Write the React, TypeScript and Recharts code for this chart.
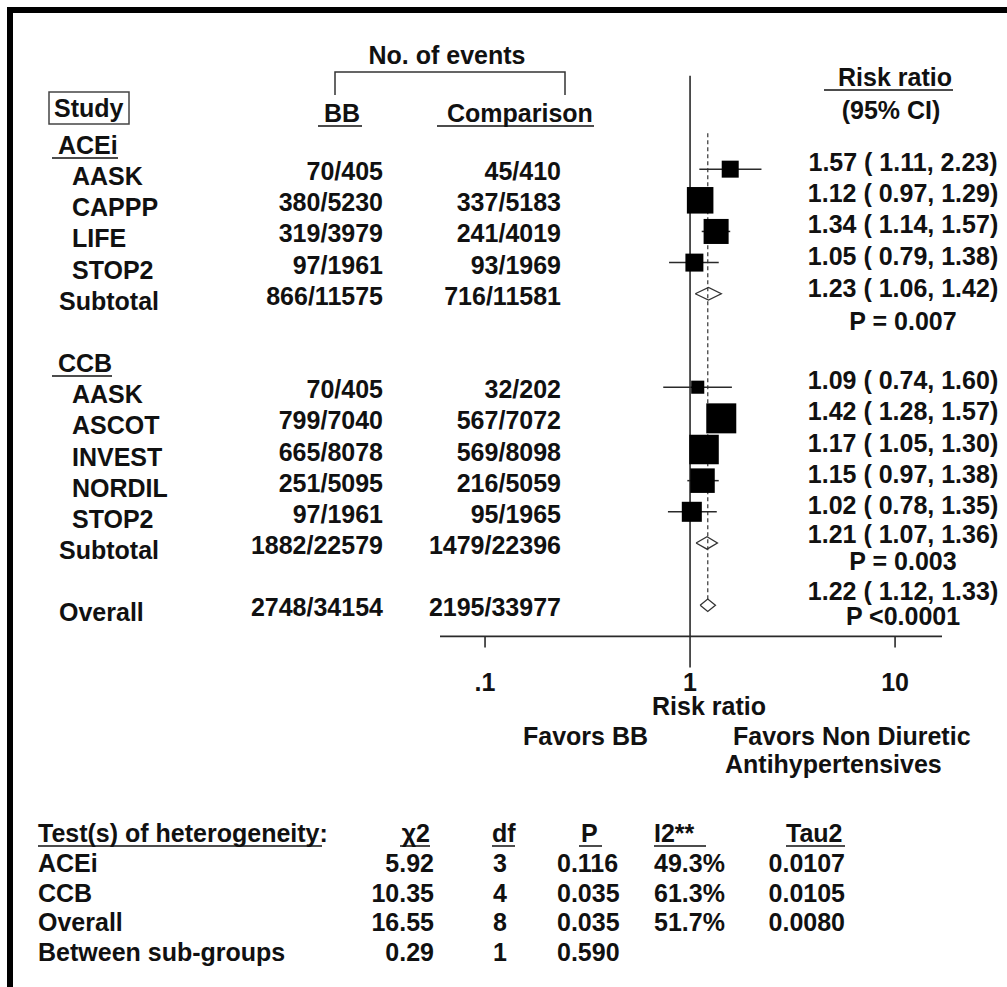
import { ScatterChart, Scatter, XAxis, YAxis, ReferenceLine, ErrorBar } from 'recharts'

// individual trials, in plot order
const studyGroup = ['ACEi', 'ACEi', 'ACEi', 'ACEi', 'CCB', 'CCB', 'CCB', 'CCB', 'CCB']
const studyName = ['AASK', 'CAPPP', 'LIFE', 'STOP2', 'AASK', 'ASCOT', 'INVEST', 'NORDIL', 'STOP2']
const bbEvents = ['70/405', '380/5230', '319/3979', '97/1961', '70/405', '799/7040', '665/8078', '251/5095', '97/1961']
const compEvents = ['45/410', '337/5183', '241/4019', '93/1969', '32/202', '567/7072', '569/8098', '216/5059', '95/1965']
const studyRR = [1.57, 1.12, 1.34, 1.05, 1.09, 1.42, 1.17, 1.15, 1.02]
const studyLow = [1.11, 0.97, 1.14, 0.79, 0.74, 1.28, 1.05, 0.97, 0.78]
const studyHigh = [2.23, 1.29, 1.57, 1.38, 1.6, 1.57, 1.3, 1.38, 1.35]
const studyWeight = [5.9, 14.4, 12.8, 6.6, 3.5, 18.4, 17.8, 12.3, 8.2]

// pooled estimates per drug class
const groups = ['ACEi', 'CCB']
const subtotalBB = ['866/11575', '1882/22579']
const subtotalComp = ['716/11581', '1479/22396']
const subtotalRR = [1.23, 1.21]
const subtotalLow = [1.06, 1.07]
const subtotalHigh = [1.42, 1.36]
const subtotalP = ['P = 0.007', 'P = 0.003']

const overallBB = '2748/34154'
const overallComp = '2195/33977'
const overallRR = 1.22
const overallLow = 1.12
const overallHigh = 1.33
const overallP = 'P <0.0001'

const xTicks = [0.1, 1, 10]
const xTickLabels = ['.1', '1', '10']

// heterogeneity table
const hetRows = ['ACEi', 'CCB', 'Overall', 'Between sub-groups']
const hetChi2 = ['5.92', '10.35', '16.55', '0.29']
const hetDf = ['3', '4', '8', '1']
const hetP = ['0.116', '0.035', '0.035', '0.590']
const hetI2 = ['49.3%', '61.3%', '51.7%', '']
const hetTau2 = ['0.0107', '0.0105', '0.0080', '']

const FONT = "'Liberation Sans', Arial, Helvetica, sans-serif"
const FS = 25
const INK = '#111'
const LINE = '#2a2a2a'
const DIAMOND_H = 0.2 // half height, in rows
const SQUARE_MAX = 30
// vertical text offsets (px) of the CI / P column, relative to the row centre
const CI_OFFSET: Record<string, number> = { study: 2, ACEi: 3, CCB: 0, overall: -5 }
const P_OFFSET: Record<string, number> = { ACEi: 36, CCB: 27, overall: 20 }

const fmt = (v: number) => v.toFixed(2)
const ciText = (rr: number, lo: number, hi: number) => `${fmt(rr)} ( ${fmt(lo)}, ${fmt(hi)})`
const diamond = (rr: number, lo: number, hi: number, y: number) => [
    { x: lo, y },
    { x: rr, y: y - DIAMOND_H },
    { x: hi, y },
    { x: rr, y: y + DIAMOND_H },
    { x: lo, y },
]

type Row = { x: number; y: number; kind: string; group?: string; label: string; bb?: string; comp?: string; ci?: string; p?: string }

const rows: Row[] = []
const markers: { x: number; y: number; w: number; err: number[] }[] = []
const diamonds: { x: number; y: number }[][] = []
let r = 0
groups.forEach((g, gi) => {
    rows.push({ x: 1, y: r, kind: 'header', label: g })
    r++
    studyName.forEach((name, i) => {
        if (studyGroup[i] !== g) return
        rows.push({ x: 1, y: r, kind: 'study', group: 'study', label: name, bb: bbEvents[i], comp: compEvents[i], ci: ciText(studyRR[i], studyLow[i], studyHigh[i]) })
        markers.push({ x: studyRR[i], y: r, w: studyWeight[i], err: [studyRR[i] - studyLow[i], studyHigh[i] - studyRR[i]] })
        r++
    })
    rows.push({ x: 1, y: r, kind: 'subtotal', group: g, label: 'Subtotal', bb: subtotalBB[gi], comp: subtotalComp[gi], ci: ciText(subtotalRR[gi], subtotalLow[gi], subtotalHigh[gi]), p: subtotalP[gi] })
    diamonds.push(diamond(subtotalRR[gi], subtotalLow[gi], subtotalHigh[gi], r))
    r += 2
})
const overallRow = r
rows.push({ x: 1, y: r, kind: 'overall', group: 'overall', label: 'Overall', bb: overallBB, comp: overallComp, ci: ciText(overallRR, overallLow, overallHigh), p: overallP })
diamonds.push(diamond(overallRR, overallLow, overallHigh, r))

const maxWeight = Math.max(...studyWeight)

function StudySquare({ cx, cy, payload }: any) {
    const side = SQUARE_MAX * Math.sqrt(payload.w / maxWeight)
    return <rect x={cx - side / 2} y={cy - side / 2} width={side} height={side} fill="#000" />
}

function RowText({ cy, payload }: any) {
    const row = payload as Row
    const txt = { fontFamily: FONT, fontWeight: 700, fill: INK, fontSize: FS }
    if (row.kind === 'header') {
        return (
            <g>
                <text x={58} y={cy + 16} {...txt}>{row.label}</text>
                <line x1={52} x2={row.label === 'CCB' ? 112 : 118} y1={cy + 20} y2={cy + 20} stroke={INK} strokeWidth={1.5} />
            </g>
        )
    }
    const nameX = row.kind === 'study' ? 72 : 59
    return (
        <g>
            <text x={nameX} y={cy + 16} {...txt}>{row.label}</text>
            <text x={383} y={cy + 11} textAnchor="end" {...txt}>{row.bb}</text>
            <text x={561} y={cy + 11} textAnchor="end" {...txt}>{row.comp}</text>
            <text x={903} y={cy + CI_OFFSET[row.group!]} textAnchor="middle" {...txt}>{row.ci}</text>
            {row.p && (
                <text x={903} y={cy + P_OFFSET[row.group!]} textAnchor="middle" {...txt}>{row.p}</text>
            )}
        </g>
    )
}

function AxisTick({ x, y, payload }: any) {
    const v = payload.value
    const len = v === 1 ? 31 : 11
    return (
        <g>
            <line x1={x} x2={x} y1={y} y2={y + len} stroke={LINE} strokeWidth={1.6} />
            <text x={x} y={y + 55} textAnchor="middle" fontSize={FS} fontFamily={FONT} fontWeight={700} fill={INK}>
                {xTickLabels[xTicks.indexOf(v)]}
            </text>
        </g>
    )
}

function Underlined({ x, y, text, x1, x2, anchor = 'start' }: { x: number; y: number; text: string; x1: number; x2: number; anchor?: string }) {
    return (
        <g>
            <text x={x} y={y} textAnchor={anchor as any}>{text}</text>
            <line x1={x1} x2={x2} y1={y + 4} y2={y + 4} stroke={INK} strokeWidth={1.5} />
        </g>
    )
}

const hetBase = [872, 902, 931, 961]

export default function App() {
    return (
        <div style={{ position: 'absolute', left: 0, top: 0, width: 1007, height: 987, background: '#fff' }}>
            <ScatterChart width={1007} height={987} margin={{ top: 75.7, right: 65, bottom: 310.6, left: 440 }}>
                <XAxis
                    type="number"
                    dataKey="x"
                    scale="log"
                    domain={[0.0603, 16.94]}
                    ticks={xTicks}
                    height={40}
                    tickSize={0}
                    tickMargin={0}
                    tickLine={false}
                    axisLine={{ stroke: LINE, strokeWidth: 1.6 }}
                    tick={(p: any) => <AxisTick {...p} />}
                    interval={0}
                />
                <YAxis type="number" dataKey="y" domain={[-2, 16]} reversed hide />
                <ReferenceLine x={1} stroke={LINE} strokeWidth={1.6} />
                <ReferenceLine
                    segment={[{ x: overallRR, y: -0.15 }, { x: overallRR, y: overallRow - DIAMOND_H }]}
                    stroke="#444"
                    strokeWidth={1.3}
                    strokeDasharray="4 3"
                />
                <Scatter data={markers} shape={(p: any) => <StudySquare {...p} />} isAnimationActive={false}>
                    <ErrorBar dataKey="err" direction="x" width={0} stroke={LINE} strokeWidth={1.5} />
                </Scatter>
                {diamonds.map((d, i) => (
                    <Scatter
                        key={i}
                        data={d}
                        line={{ stroke: '#333', strokeWidth: 1.3, fill: 'none' }}
                        lineType="joint"
                        shape={() => <g />}
                        isAnimationActive={false}
                    />
                ))}
                <Scatter data={rows} shape={(p: any) => <RowText {...p} />} isAnimationActive={false} />
            </ScatterChart>

            <svg width={1007} height={987} style={{ position: 'absolute', left: 0, top: 0, pointerEvents: 'none' }}>
                {/* frame */}
                <rect x={7} y={7} width={1000} height={6} fill="#000" />
                <rect x={7} y={7} width={6} height={980} fill="#000" />

                <g fontFamily={FONT} fontWeight={700} fill={INK} fontSize={FS}>
                    {/* column headers */}
                    <text x={447} y={64} textAnchor="middle">No. of events</text>
                    <path d="M335 95 V72 H565 V95" fill="none" stroke="#333" strokeWidth={1.5} />
                    <rect x={49} y={92} width={80} height={32} fill="none" stroke="#444" strokeWidth={1.5} />
                    <text x={54} y={117}>Study</text>
                    <Underlined x={324} y={122} text="BB" x1={318} x2={362} />
                    <Underlined x={447} y={122} text="Comparison" x1={437} x2={594} />
                    <Underlined x={838} y={86} text="Risk ratio" x1={824} x2={953} />
                    <text x={891} y={119} textAnchor="middle">(95% CI)</text>

                    {/* axis captions */}
                    <text x={709} y={715} textAnchor="middle">Risk ratio</text>
                    <text x={523} y={745}>Favors BB</text>
                    <text x={733} y={745}>Favors Non Diuretic</text>
                    <text x={725} y={773}>Antihypertensives</text>

                    {/* heterogeneity */}
                    <text x={38} y={842}>Test(s) of heterogeneity:</text>
                    <line x1={38} x2={322} y1={846} y2={846} stroke={INK} strokeWidth={1.5} />
                    <Underlined x={430} y={842} text="χ2" x1={400} x2={430} anchor="end" />
                    <Underlined x={492} y={842} text="df" x1={492} x2={515} />
                    <Underlined x={581} y={842} text="P" x1={579} x2={602} />
                    <Underlined x={654} y={842} text="I2**" x1={654} x2={706} />
                    <Underlined x={786} y={842} text="Tau2" x1={786} x2={845} />
                    {hetRows.map((lab, i) => (
                        <g key={lab}>
                            <text x={38} y={hetBase[i]}>{lab}</text>
                            <text x={434} y={hetBase[i]} textAnchor="end">{hetChi2[i]}</text>
                            <text x={507} y={hetBase[i]} textAnchor="end">{hetDf[i]}</text>
                            <text x={557} y={hetBase[i]}>{hetP[i]}</text>
                            <text x={654} y={hetBase[i]}>{hetI2[i]}</text>
                            <text x={845} y={hetBase[i]} textAnchor="end">{hetTau2[i]}</text>
                        </g>
                    ))}
                </g>
            </svg>
        </div>
    )
}
